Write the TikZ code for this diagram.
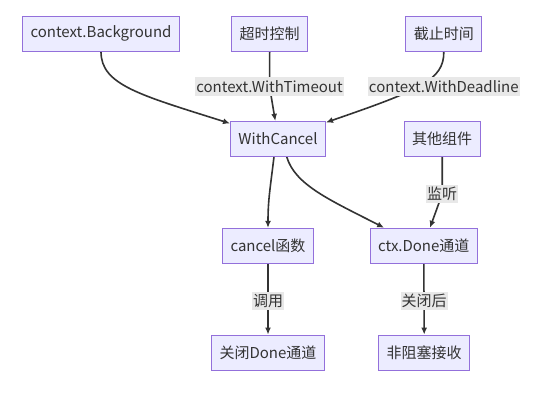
\documentclass[tikz,border=0pt]{standalone}
\usepackage{fontspec}
\setmainfont{Noto Sans CJK SC}
\usetikzlibrary{arrows.meta}
\usetikzlibrary{backgrounds}
\definecolor{boxfill}{HTML}{ECECFF}
\definecolor{boxline}{HTML}{9370DB}
\definecolor{ink}{HTML}{333333}
\definecolor{tagfill}{HTML}{E8E8E8}

\begin{document}
\begin{tikzpicture}[x=1pt, y=-1pt]
    \tikzstyle{block}=[draw=boxline, fill=boxfill, line width=0.9pt, text=ink,
      font=\fontsize{15}{18}\selectfont, minimum height=35pt, inner xsep=8pt]
    \tikzstyle{tag}=[fill=tagfill, text=ink, font=\fontsize{15}{18}\selectfont,
      inner xsep=1pt, inner ysep=0pt, minimum height=18.4pt]
    \tikzstyle{flow}=[draw=ink, line width=1.6pt, -{Latex[length=7pt, width=6pt]}]

    \useasboundingbox (0,0) rectangle (560,404);

    % Sources
    \node[block] (bg) at (101, 33.8) {context.Background};
    \node[block] (timeout) at (269.7, 34) {超时控制};
    \node[block] (deadline) at (443.8, 34) {截止时间};
    \node[tag] (ltimeout) at (269.5, 86.5) {context.WithTimeout};
    \node[tag] (ldeadline) at (443.8, 86.5) {context.WithDeadline};

    % WithCancel and listener
    \node[block] (wc) at (278, 138.8) {WithCancel};
    \node[block] (other) at (442.2, 138.7) {其他组件};
    \node[tag] (llisten) at (442.2, 194) {监听};

    % Cancel function and Done channel
    \node[block] (cancel) at (268, 245.8) {cancel函数};
    \node[block] (done) at (423.8, 245.7) {ctx.Done通道};
    \node[tag] (lcall) at (268, 301) {调用};
    \node[tag] (lclose) at (424, 301) {关闭后};

    % Results
    \node[block] (closedone) at (268, 352.5) {关闭Done通道};
    \node[block] (recv) at (424.2, 352.5) {非阻塞接收};

    \begin{scope}[on background layer]
      \fill[white] (0,0) rectangle (560,404);
      \draw[flow] (bg.south) .. controls (101, 85) and (140, 95) ..
        ([yshift=-2.6pt]wc.north west);
      \draw[flow] (timeout.south) -- (ltimeout.center) --
        ([xshift=-2.7pt]wc.north);
      \draw[flow] (deadline.south) .. controls (444, 80) and (420, 90) ..
        ([yshift=-1.6pt]wc.north east);
      \draw[flow] ([xshift=-4pt]wc.south) .. controls (270, 190) and (268, 200) ..
        (cancel.north);
      \draw[flow] ([xshift=8.7pt]wc.south) .. controls (295, 185) and (330, 200) ..
        ([xshift=14.4pt]done.north west);
      \draw[flow] (other.south) -- (llisten.center) --
        ([xshift=6.2pt]done.north);
      \draw[flow] (cancel.south) -- (lcall.center) -- (closedone.north);
      \draw[flow] (done.south) -- (lclose.center) -- (recv.north);
    \end{scope}
\end{tikzpicture}
\end{document}
